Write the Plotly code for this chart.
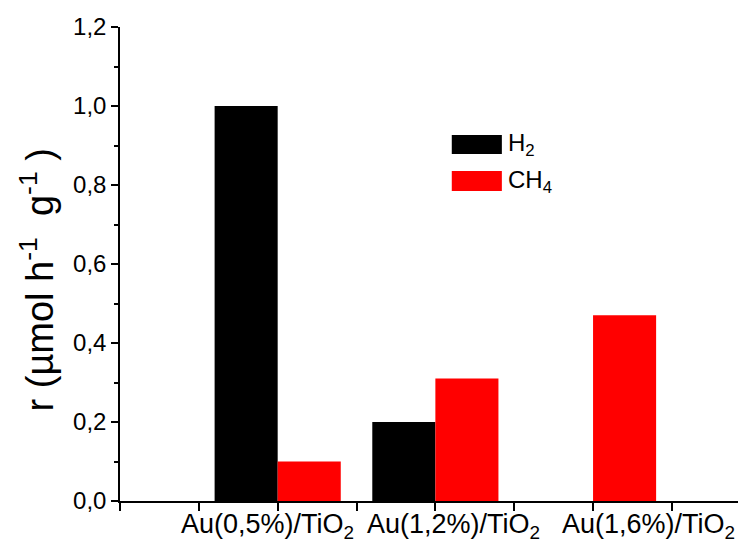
import plotly.graph_objects as go

categories = ["Au(0,5%)/TiO<sub>2</sub>", "Au(1,2%)/TiO<sub>2</sub>", "Au(1,6%)/TiO<sub>2</sub>"]
positions = [1, 2, 3]
h2_values = [1.0, 0.2, 0.0]
ch4_values = [0.1, 0.31, 0.47]
y_ticks = [0.0, 0.2, 0.4, 0.6, 0.8, 1.0, 1.2]

FONT = "Liberation Sans, Arial, sans-serif"

fig = go.Figure()
fig.add_trace(go.Bar(x=positions, y=h2_values, name="H<sub>2</sub>",
                     marker=dict(color="#000000", line=dict(width=0))))
fig.add_trace(go.Bar(x=positions, y=ch4_values, name="CH<sub>4</sub>",
                     marker=dict(color="#ff0000", line=dict(width=0))))

# manual legend (wide swatches)
legend_items = [("#000000", "H<sub>2</sub>", 0.732, 0.772), ("#ff0000", "CH<sub>4</sub>", 0.654, 0.696)]
for color, label, y0, y1 in legend_items:
    fig.add_shape(type="rect", xref="paper", yref="paper", x0=0.530, x1=0.610, y0=y0, y1=y1,
                  fillcolor=color, line=dict(width=0))
    fig.add_annotation(xref="paper", yref="paper", x=0.617, y=(y0 + y1) / 2, text=label,
                       showarrow=False, xanchor="left", yanchor="middle",
                       font=dict(family=FONT, size=24, color="black"))

# category labels, spread out below the axis as in the original
label_x = [0.236, 0.533, 0.844]
for cx, cat in zip(label_x, categories):
    fig.add_annotation(xref="paper", yref="paper", x=cx, y=-0.012, text=cat,
                       showarrow=False, xanchor="center", yanchor="top",
                       font=dict(family=FONT, size=27, color="black"))

# y-axis title
fig.add_annotation(xref="paper", yref="paper", x=-0.132, y=0.466,
                   text="r (µmol h<sup>-1</sup>  g<sup>-1</sup> )", textangle=-90,
                   showarrow=False, xanchor="center", yanchor="middle",
                   font=dict(family=FONT, size=38, color="black"))

fig.update_layout(
    width=738, height=536,
    margin=dict(l=112, r=0, t=19, b=43),
    paper_bgcolor="white", plot_bgcolor="white",
    barmode="group", bargap=0.2, bargroupgap=0,
    showlegend=False,
    separators=",.",
    font=dict(family=FONT, color="black"),
)
fig.update_xaxes(
    range=[0, 3.97], tickvals=positions, showticklabels=False, automargin=False,
    showline=True, linecolor="black", linewidth=1.5,
    ticks="outside", ticklen=8, tickwidth=1.5, tickcolor="black",
    minor=dict(dtick=0.5, tick0=0, ticks="outside", ticklen=8, tickwidth=1.5, tickcolor="black"),
    showgrid=False, zeroline=False,
)
fig.update_yaxes(
    range=[0, 1.2], tickvals=y_ticks, tickformat=".1f", automargin=False,
    showline=True, linecolor="black", linewidth=1.5,
    ticks="outside", ticklen=7, tickwidth=1.5, tickcolor="black",
    minor=dict(dtick=0.1, tick0=0, ticks="outside", ticklen=4, tickwidth=1.5, tickcolor="black"),
    tickfont=dict(family=FONT, size=24), showgrid=False, zeroline=False,
)

fig.write_html("out.html")
